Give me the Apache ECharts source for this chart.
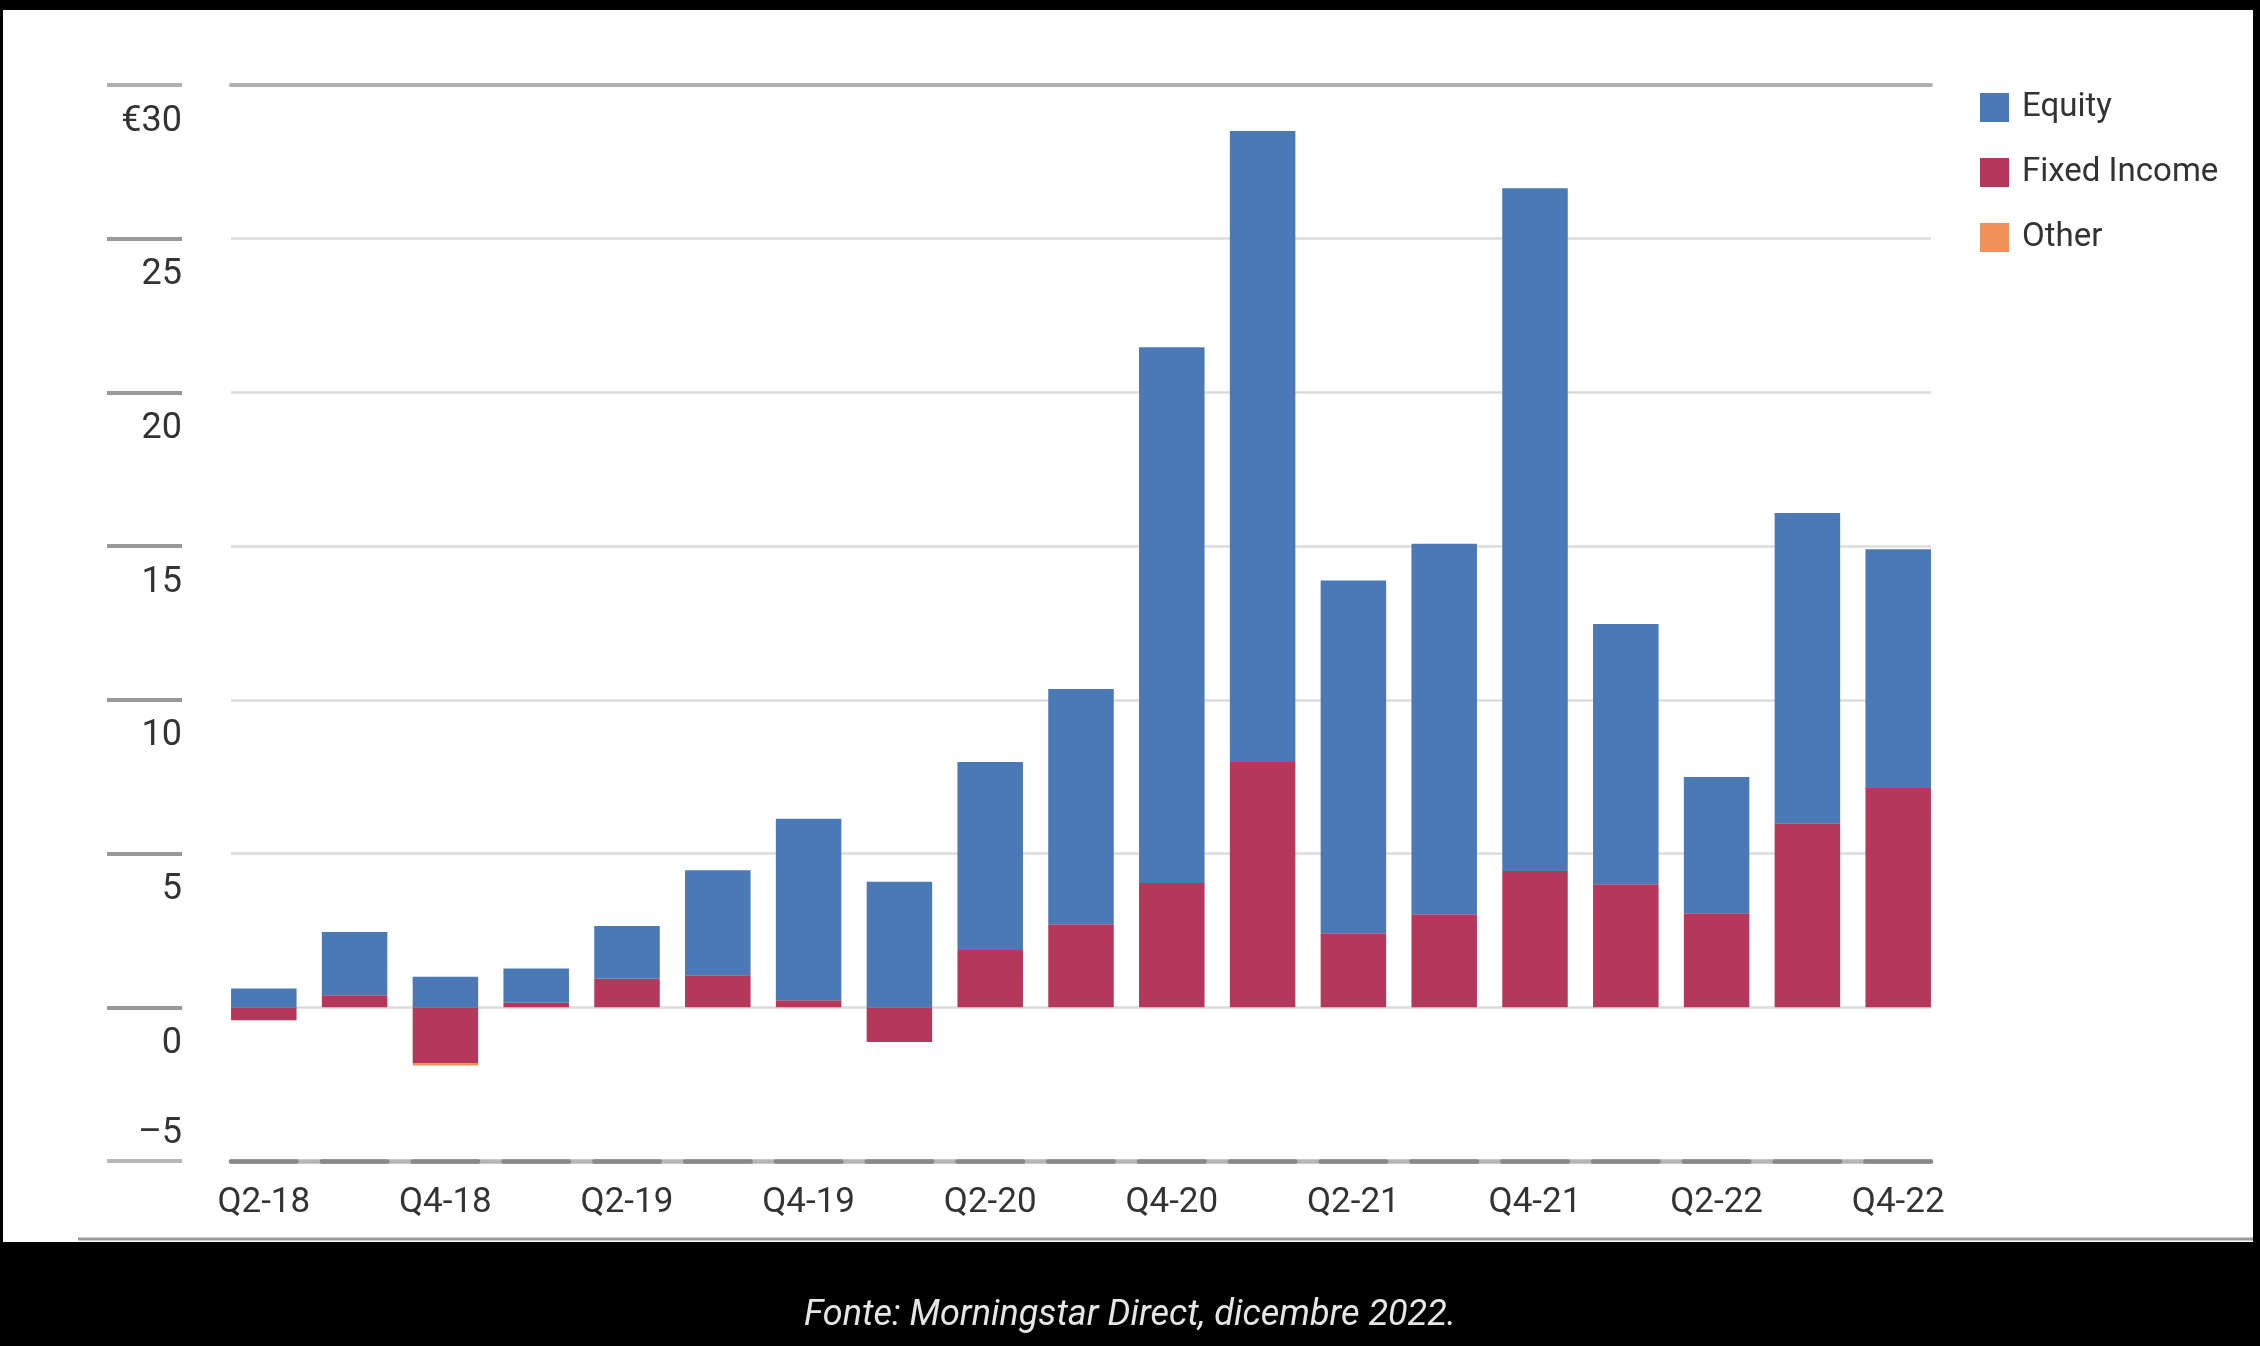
<!DOCTYPE html>
<html lang="it">
<head>
    <meta charset="utf-8">
    <title>Flussi trimestrali</title>
    <script src="https://cdn.jsdelivr.net/npm/echarts@6/dist/echarts.min.js"></script>
    <style>
        html, body { margin: 0; padding: 0; background: #000; }
        #main { width: 2260px; height: 1346px; }
    </style>
</head>
<body>
<div id="main"></div>
<script type="text/javascript">
    // dati (miliardi di euro)
    var quarters = ['Q2-18', 'Q3-18', 'Q4-18', 'Q1-19', 'Q2-19', 'Q3-19', 'Q4-19', 'Q1-20', 'Q2-20', 'Q3-20',
        'Q4-20', 'Q1-21', 'Q2-21', 'Q3-21', 'Q4-21', 'Q1-22', 'Q2-22', 'Q3-22', 'Q4-22'];
    var equity = [0.61, 2.06, 0.99, 1.11, 1.71, 3.42, 5.90, 4.08, 6.12, 7.65,
        17.43, 20.52, 11.47, 12.05, 22.21, 8.47, 4.43, 10.09, 7.77];
    var fixedIncome = [-0.42, 0.39, -1.81, 0.15, 0.93, 1.04, 0.23, -1.13, 1.86, 2.70,
        4.04, 7.98, 2.41, 3.03, 4.43, 4.00, 3.06, 5.99, 7.13];
    var other = [0, 0, -0.08, 0, 0, 0, 0, 0, 0, 0,
        0, 0, 0, 0, 0, 0, 0, 0, 0];
    var yMin = -5, yMax = 30, yStep = 5;

    var font = "Roboto, sans-serif";
    var gridTop = 85, gridHeight = 1076;

    var myChart = echarts.init(document.getElementById('main'));
    option = {
        backgroundColor: '#000',
        animation: false,
        title: {
            text: 'Fonte: Morningstar Direct, dicembre 2022.',
            left: 'center',
            top: 1293,
            textStyle: {
                color: '#e6e6e6',
                fontStyle: 'italic',
                fontWeight: 'normal',
                fontSize: 36,
                fontFamily: 'Roboto, sans-serif'
            }
        },
        graphic: [
            {type: 'rect', z: -10, shape: {x: 3, y: 10, width: 2250, height: 1232}, style: {fill: '#fff'}},
            {type: 'line', z: -9, shape: {x1: 78, y1: 1239, x2: 2253, y2: 1239}, style: {stroke: '#9a9a9a', lineWidth: 3}}
        ],
        legend: {
            orient: 'vertical',
            left: 1975,
            top: 86,
            itemWidth: 29,
            itemHeight: 29,
            itemGap: 32,
            icon: 'rect',
            data: ['Equity', 'Fixed Income', 'Other'],
            textStyle: {color: '#333', fontSize: 33, fontFamily: font, padding: [0, 0, 0, 8]}
        },
        grid: [
            // barre
            {left: 218.4, top: gridTop, width: 1725.2, height: gridHeight},
            // griglia
            {left: 231, top: gridTop, width: 1700, height: gridHeight},
            // trattini a sinistra
            {left: 107, top: gridTop, width: 75, height: gridHeight}
        ],
        xAxis: [
            {
                type: 'category',
                gridIndex: 0,
                data: quarters,
                z: 5,
                axisLine: {onZero: false, lineStyle: {color: '#888', width: 4.5, type: [65.5, 25.3], dashOffset: 78.15}},
                axisTick: {show: false},
                axisLabel: {interval: 1, color: '#333', fontSize: 35, fontFamily: font, margin: 25}
            },
            {
                type: 'value', gridIndex: 1, position: 'top', min: 0, max: 1,
                axisLine: {show: true, onZero: false, lineStyle: {color: '#b0b0b0', width: 4}},
                axisTick: {show: false}, axisLabel: {show: false}, splitLine: {show: false}
            },
            {
                type: 'value', gridIndex: 1, position: 'bottom', min: 0, max: 1,
                axisLine: {show: true, onZero: false, lineStyle: {color: '#b5b5b5', width: 4.5}},
                axisTick: {show: false}, axisLabel: {show: false}, splitLine: {show: false}
            },
            {type: 'value', gridIndex: 2, min: 0, max: 1, show: false}
        ],
        yAxis: [
            {type: 'value', gridIndex: 0, min: yMin, max: yMax, interval: yStep, show: false},
            {
                type: 'value', gridIndex: 1, min: yMin, max: yMax, interval: yStep,
                axisLine: {show: false},
                axisTick: {show: false},
                splitLine: {
                    lineStyle: {
                        width: 2.5,
                        color: ['rgba(0,0,0,0)', '#dcdcdc', '#dcdcdc', '#dcdcdc', '#dcdcdc', '#dcdcdc', '#dcdcdc', 'rgba(0,0,0,0)']
                    }
                },
                axisLabel: {
                    margin: 49,
                    align: 'right',
                    formatter: function (v) {
                        var t = v === yMax ? '€' + v : (v < 0 ? '\u2013' + Math.abs(v) : String(v));
                        return v < 0 ? '{up|' + t + '}' : '{dn|' + t + '}';
                    },
                    rich: {
                        dn: {padding: [73, 0, 0, 0], color: '#333', fontSize: 36, fontFamily: font},
                        up: {padding: [0, 0, 54, 0], color: '#333', fontSize: 36, fontFamily: font}
                    }
                }
            },
            {
                type: 'value', gridIndex: 2, min: yMin, max: yMax, interval: yStep,
                axisLine: {show: false}, axisTick: {show: false}, axisLabel: {show: false},
                splitLine: {
                    lineStyle: {
                        width: 4,
                        color: ['#b8b8b8', '#999', '#999', '#999', '#999', '#999', '#999', '#b0b0b0']
                    }
                }
            }
        ],
        series: [
            {
                name: 'Fixed Income', type: 'bar', stack: 'tot', xAxisIndex: 0, yAxisIndex: 0,
                barWidth: 65.5, data: fixedIncome, itemStyle: {color: '#b5385c'}
            },
            {
                name: 'Equity', type: 'bar', stack: 'tot', xAxisIndex: 0, yAxisIndex: 0,
                barWidth: 65.5, data: equity, itemStyle: {color: '#4b79b5'}
            },
            {
                name: 'Other', type: 'bar', stack: 'tot', xAxisIndex: 0, yAxisIndex: 0,
                barWidth: 65.5, data: other, itemStyle: {color: '#f0915a'}
            }
        ]
    };

    myChart.setOption(option);
</script>
</body>
</html>
